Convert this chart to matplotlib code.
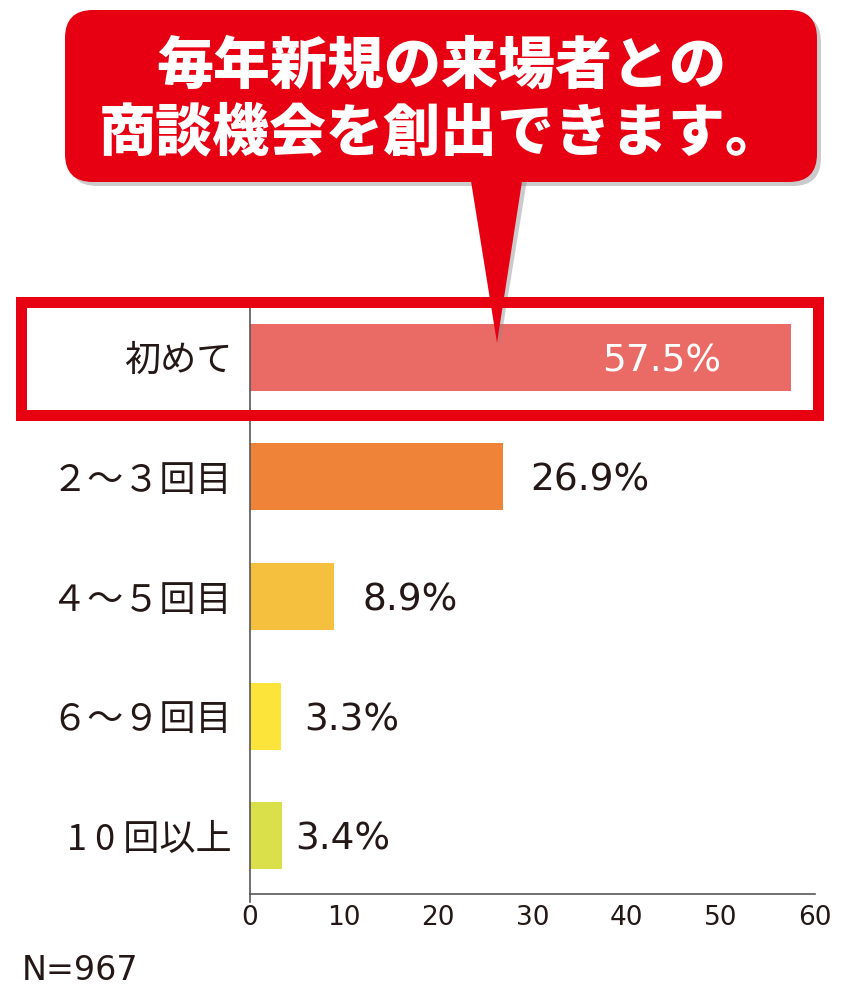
import numpy as np
import matplotlib
matplotlib.use("Agg")
import matplotlib.pyplot as plt
from matplotlib.patches import FancyBboxPatch, Rectangle, Polygon

plt.rcParams['font.family'] = ['Noto Sans CJK JP', 'DejaVu Sans']

# data
categories = ['初めて', '２～３回目', '４～５回目', '６～９回目', '1 0 回以上']
values = [57.5, 26.9, 8.9, 3.3, 3.4]
x_ticks = [0, 10, 20, 30, 40, 50, 60]
n_label = 'N=967'
title_lines = ['毎年新規の来場者との', '商談機会を創出できます。']

bar_colors = ['#EA6B66', '#EF8438', '#F6C03F', '#FDE43A', '#D9E04A']
label_pad_px = [-70, 27, 29, 23, 13]
RED = '#E60012'
DARK = '#231815'

W, H = 845, 1002
fig = plt.figure(figsize=(W / 100, H / 100), dpi=100)

ax = fig.add_axes([250 / W, (H - 894) / H, 565 / W, (894 - 307) / H])
pos = np.arange(len(categories))
ax.barh(pos, values, height=0.56, color=bar_colors, zorder=2)
ax.set_xlim(0, 60)
ax.set_ylim(len(categories) - 1 + 0.485, -0.42)
ax.set_xticks(x_ticks)
ax.set_xticklabels([str(t) for t in x_ticks], fontsize=19, family='DejaVu Sans', color=DARK)
ax.set_yticks(pos)
ax.set_yticklabels(categories, fontsize=26, color=DARK)
ax.tick_params(axis='y', length=0, pad=13)
ax.tick_params(axis='x', length=0, pad=8)
for s in ['top', 'right']:
    ax.spines[s].set_visible(False)
for s in ['left', 'bottom']:
    ax.spines[s].set_color('#595757')
    ax.spines[s].set_linewidth(1.2)

for i, v in enumerate(values):
    pad = label_pad_px[i] * 0.72
    if pad < 0:
        ax.annotate(f'{v}%', xy=(v, i), xytext=(pad, 0), textcoords='offset points',
                    ha='right', va='center_baseline', fontsize=27, color='white',
                    family='DejaVu Sans', zorder=3)
    else:
        ax.annotate(f'{v}%', xy=(v, i), xytext=(pad, 0), textcoords='offset points',
                    ha='left', va='center_baseline', fontsize=27, color=DARK,
                    family='DejaVu Sans', zorder=3)

# overlay in pixel coordinates for the callout and highlight box
ov = fig.add_axes([0, 0, 1, 1], zorder=5)
ov.set_xlim(0, W)
ov.set_ylim(H, 0)
ov.axis('off')
ov.patch.set_alpha(0)

# y axis runs a little past the x axis
ov.plot([250, 250], [894, 902], color='#595757', lw=1.2, zorder=1)

shadow = FancyBboxPatch((69, 14), 752, 172, boxstyle='round,pad=0,rounding_size=28',
                        fc='#8c8c8c', ec='none', alpha=0.45, zorder=1)
ov.add_patch(shadow)
ov.add_patch(Polygon([(474, 180), (527, 180), (500, 345)], closed=True,
                     fc='#8c8c8c', ec='none', alpha=0.45, zorder=1))
bubble = FancyBboxPatch((65, 10), 752, 172, boxstyle='round,pad=0,rounding_size=28',
                        fc=RED, ec='none', zorder=2)
ov.add_patch(bubble)
ov.add_patch(Polygon([(470, 175), (523, 175), (497, 343)], closed=True,
                     fc=RED, ec='none', zorder=2))

ov.add_patch(Rectangle((21.5, 301.5), 797, 113, fill=False, ec=RED, lw=11 * 0.72, zorder=3))

ov.text(441, 67, title_lines[0], ha='center', va='center', fontsize=41,
        weight='heavy', color='white', zorder=4)
ov.text(441, 134, title_lines[1], ha='center', va='center', fontsize=41,
        weight='heavy', color='white', zorder=4)

ov.text(22, 970, n_label, ha='left', va='center', fontsize=24,
        family='DejaVu Sans', color=DARK)

fig.savefig('out.png', dpi=100)
